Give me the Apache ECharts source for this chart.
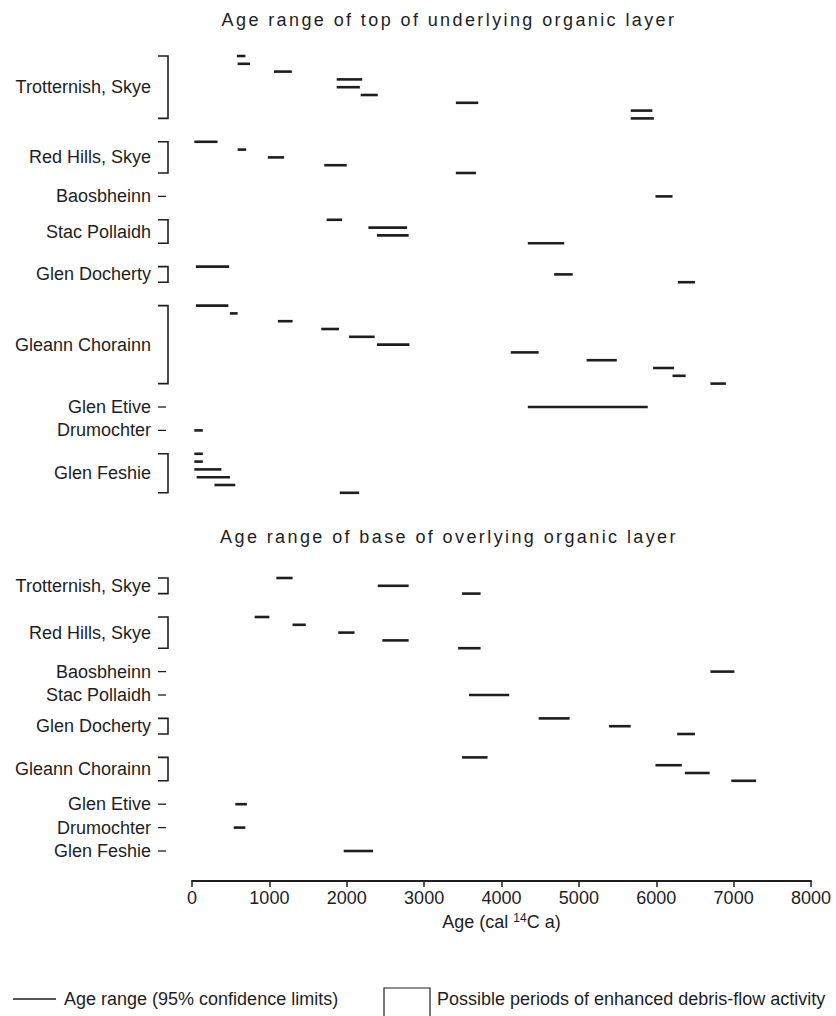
<!DOCTYPE html>
<html><head><meta charset="utf-8">
<script src="https://cdn.jsdelivr.net/npm/echarts@6/dist/echarts.min.js"></script>
<style>
html,body{margin:0;padding:0;background:#fff;}
#c{width:836px;height:1016px;}
#c text[style*="Arimo"]{letter-spacing:2.4px;}
</style></head><body><div id="c"></div>
<script>
// ---------- data ----------
const sites = ["Trotternish, Skye","Red Hills, Skye","Baosbheinn","Stac Pollaidh","Glen Docherty","Gleann Chorainn","Glen Etive","Drumochter","Glen Feshie"];
// age ranges (cal 14C a) of top of underlying organic layer, per site
const underTrotternish = [[580,690],[590,750],[1060,1290],[1870,2200],[1870,2170],[2180,2400],[3410,3700],[5670,5950],[5670,5970]];
const underRedHills    = [[30,330],[590,700],[980,1190],[1710,2000],[3410,3670]];
const underBaosbheinn  = [[5990,6210]];
const underStac        = [[1740,1940],[2280,2780],[2390,2800],[4340,4810]];
const underDocherty    = [[50,480],[4680,4920],[6280,6500]];
const underChorainn    = [[50,470],[490,590],[1110,1300],[1670,1900],[2030,2360],[2390,2810],[4120,4480],[5100,5490],[5960,6230],[6210,6380],[6700,6900]];
const underEtive       = [[4340,5890]];
const underDrumochter  = [[30,140]];
const underFeshie      = [[30,140],[30,140],[30,380],[60,490],[290,560],[1910,2160]];
// age ranges of base of overlying organic layer, per site
const overTrotternish = [[1090,1300],[2400,2800],[3490,3730]];
const overRedHills    = [[810,1000],[1300,1470],[1890,2100],[2460,2800],[3440,3730]];
const overBaosbheinn  = [[6700,7010]];
const overStac        = [[3580,4100]];
const overDocherty    = [[4480,4880],[5390,5670],[6270,6500]];
const overChorainn    = [[3490,3820],[5990,6330],[6370,6690],[6970,7290]];
const overEtive       = [[560,710]];
const overDrumochter  = [[540,690]];
const overFeshie      = [[1960,2340]];
const xTickLabels = ["0","1000","2000","3000","4000","5000","6000","7000","8000"];
const panelTitles = ["Age range of top of underlying organic layer","Age range of base of overlying organic layer"];
const legendLabels = ["Age range (95% confidence limits)","Possible periods of enhanced debris-flow activity"];

const underlying = [underTrotternish,underRedHills,underBaosbheinn,underStac,underDocherty,underChorainn,underEtive,underDrumochter,underFeshie];
const overlying  = [overTrotternish,overRedHills,overBaosbheinn,overStac,overDocherty,overChorainn,overEtive,overDrumochter,overFeshie];

// ---------- layout ----------
const ROW = 7.8, GAP = 2;
const INK = '#1e1e1e';
const FAM = '"Liberation Sans", Arial, sans-serif';
const FONT = '18px ' + FAM;
function layout(panel){
  const segs=[], groups=[]; let r=0;
  panel.forEach((list,i)=>{
    const first=r;
    list.forEach(s=>{segs.push([s[0],s[1],r]); r++;});
    groups.push([first,r-1,i]);
    r+=GAP;
  });
  return {segs, groups, last:r-GAP-1};
}
const topL = layout(underlying), botL = layout(overlying);
const xMin = +xTickLabels[0], xMax = +xTickLabels[xTickLabels.length-1], xStep = +xTickLabels[1]-xMin;

const GL = 192, GR = 25;
const topGrid = {left:GL, right:GR, top:56, height:topL.last*ROW};
const botGrid = {left:GL, right:GR, top:578, height:303};

function segItem(params, api){
  const a = api.coord([api.value(0), api.value(2)]);
  const b = api.coord([api.value(1), api.value(2)]);
  return {type:'line', shape:{x1:a[0],y1:a[1],x2:b[0],y2:b[1]}, style:{stroke:INK, lineWidth:2.6, lineCap:'butt'}};
}
function siteItem(params, api){
  const r0=api.value(0), r1=api.value(1), idx=api.value(2);
  const p0=api.coord([xMin,r0]), p1=api.coord([xMin,r1]);
  const bx=p0[0]-24, ym=(p0[1]+p1[1])/2;
  const ch=[];
  if(r1>r0){
    ch.push({type:'polyline', shape:{points:[[bx-10,p0[1]],[bx,p0[1]],[bx,p1[1]],[bx-10,p1[1]]]}, style:{stroke:INK, lineWidth:1.6, fill:'none'}});
  } else {
    ch.push({type:'line', shape:{x1:bx-10,y1:ym,x2:bx-2,y2:ym}, style:{stroke:INK, lineWidth:1.3}});
  }
  ch.push({type:'text', x:bx-17, y:ym, style:{text:sites[idx], textAlign:'right', textVerticalAlign:'middle', font:FONT, fill:INK}});
  return {type:'group', children:ch};
}

const chart = echarts.init(document.getElementById('c'), null, {renderer:'svg'});
chart.setOption({
  animation:false,
  backgroundColor:'#fff',
  grid:[topGrid, botGrid],
  xAxis:[
    {gridIndex:0, type:'value', min:xMin, max:xMax, interval:xStep, show:false},
    {gridIndex:1, type:'value', position:'bottom', min:xMin, max:xMax, interval:xStep,
     axisLine:{show:true, onZero:false, lineStyle:{color:INK, width:2}},
     axisTick:{show:true, inside:false, length:6, lineStyle:{color:INK, width:1.5}},
     splitLine:{show:false},
     axisLabel:{margin:8, color:INK, fontSize:18, fontFamily:FAM,
       formatter:(v)=>xTickLabels[Math.round((v-xMin)/xStep)]},
     name:'Age (cal {sup|14}C a)', nameLocation:'middle', nameGap:31,
     nameTextStyle:{color:INK, fontSize:18, fontFamily:FAM, lineHeight:20,
       rich:{sup:{fontSize:12, verticalAlign:'top', lineHeight:20, color:INK, fontFamily:FAM}}}
    }
  ],
  yAxis:[
    {gridIndex:0, type:'value', min:0, max:topL.last, inverse:true, show:false},
    {gridIndex:1, type:'value', min:0, max:botGrid.height/ROW, inverse:true, show:false}
  ],
  series:[
    {type:'custom', xAxisIndex:0, yAxisIndex:0, data:topL.segs, encode:{x:[0,1], y:2}, renderItem:segItem, clip:false, silent:true},
    {type:'custom', xAxisIndex:1, yAxisIndex:1, data:botL.segs, encode:{x:[0,1], y:2}, renderItem:segItem, clip:false, silent:true},
    {type:'custom', xAxisIndex:0, yAxisIndex:0, data:topL.groups, encode:{y:[0,1]}, renderItem:siteItem, clip:false, silent:true},
    {type:'custom', xAxisIndex:1, yAxisIndex:1, data:botL.groups, encode:{y:[0,1]}, renderItem:siteItem, clip:false, silent:true}
  ],
  graphic:[
    {type:'text', x:449, y:20, style:{text:panelTitles[0], textAlign:'center', textVerticalAlign:'middle', font:'18px "Liberation Sans", Arimo', fill:INK}},
    {type:'text', x:449, y:537, style:{text:panelTitles[1], textAlign:'center', textVerticalAlign:'middle', font:'18px "Liberation Sans", Arimo', fill:INK}},
    {type:'line', shape:{x1:13,y1:999,x2:56,y2:999}, style:{stroke:INK, lineWidth:1.5}},
    {type:'text', x:64, y:999, style:{text:legendLabels[0], textAlign:'left', textVerticalAlign:'middle', font:FONT, fill:INK}},
    {type:'rect', shape:{x:384, y:988, width:46, height:40}, style:{stroke:INK, lineWidth:1.2, fill:'none'}},
    {type:'text', x:437, y:999, style:{text:legendLabels[1], textAlign:'left', textVerticalAlign:'middle', font:FONT, fill:INK}}
  ]
});
</script></body></html>
